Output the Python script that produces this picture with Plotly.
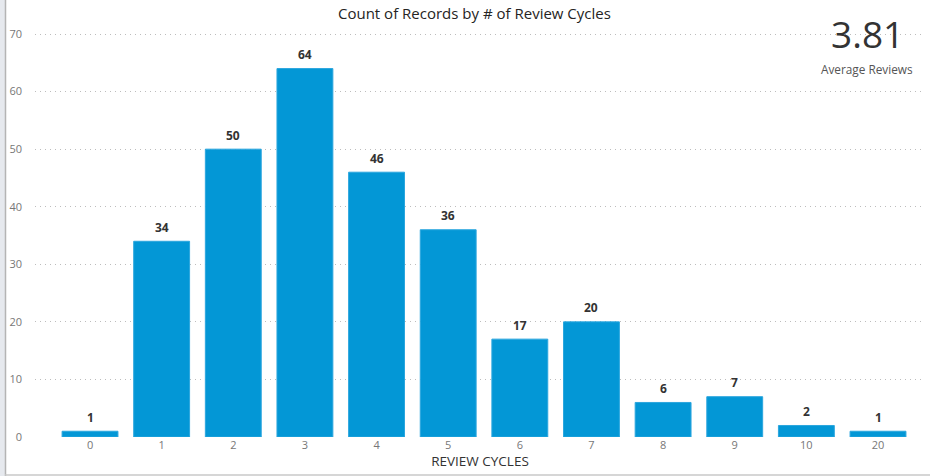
import plotly.graph_objects as go

categories = ["0", "1", "2", "3", "4", "5", "6", "7", "8", "9", "10", "20"]
counts = [1, 34, 50, 64, 46, 36, 17, 20, 6, 7, 2, 1]
y_ticks = [0, 10, 20, 30, 40, 50, 60, 70]
title_text = "Count of Records by # of Review Cycles"
x_title = "REVIEW CYCLES"
card_value = "3.81"
card_label = "Average Reviews"

FONT = "Segoe UI, Open Sans, sans-serif"
W, H = 930, 476
ML, MR, MT, MB = 35, 5, 30, 39
PW = W - ML - MR
PH = H - MT - MB

fig = go.Figure()
fig.add_trace(go.Bar(
    x=categories, y=counts,
    marker=dict(color="#0397D6", line=dict(color="#2BA6DE", width=1)),
    cliponaxis=False, hoverinfo="x+y",
))

# data labels above bars (category axis: position by category index)
for i, v in enumerate(counts):
    fig.add_annotation(x=i, y=v, text=str(v), showarrow=False,
                       xanchor="center", yanchor="middle", yshift=14,
                       font=dict(family=FONT, size=12, color="#333333", weight="bold"))

fig.update_layout(
    width=W, height=H,
    margin=dict(l=ML, r=MR, t=MT, b=MB),
    paper_bgcolor="white", plot_bgcolor="white",
    showlegend=False, bargap=0.22,
    font=dict(family=FONT),
    xaxis=dict(type="category", range=[-0.768, 11.656], showgrid=False,
               showline=False, ticks="", zeroline=False,
               tickfont=dict(family=FONT, size=11, color="#777777"),
               title=dict(text=x_title, font=dict(family=FONT, size=13.5, color="#333333"), standoff=1)),
    yaxis=dict(range=[0, 70.7], tickvals=y_ticks, showgrid=True,
               gridcolor="#BDBDBD", griddash="1px,4px", gridwidth=1,
               zeroline=False, showline=False, ticks="",
               tickfont=dict(family=FONT, size=11, color="#777777"),
               ticklabelstandoff=12),
)

def px(xp):
    return (xp - ML) / PW

def py(yp):
    return (H - MB - yp) / PH

fig.add_annotation(text=title_text, xref="paper", yref="paper",
                   x=px(474), y=py(13), showarrow=False,
                   xanchor="center", yanchor="middle",
                   font=dict(family=FONT, size=15, color="#252423"))
fig.add_annotation(text=card_value, xref="paper", yref="paper",
                   x=px(867), y=py(34), showarrow=False,
                   xanchor="center", yanchor="middle",
                   font=dict(family=FONT, size=37, color="#333333"))
fig.add_annotation(text=card_label, xref="paper", yref="paper",
                   x=px(867), y=py(69), showarrow=False,
                   xanchor="center", yanchor="middle",
                   font=dict(family=FONT, size=11.8, color="#555555"))

# left border band and line, bottom border line
fig.add_shape(type="rect", xref="paper", yref="paper", x0=px(0), x1=px(5), y0=py(H), y1=py(0),
              fillcolor="#E6E9EE", line=dict(width=0), layer="above")
fig.add_shape(type="line", xref="paper", yref="paper", x0=px(5.5), x1=px(5.5), y0=py(H), y1=py(0),
              line=dict(color="#B4B4B4", width=1.5), layer="above")
fig.add_shape(type="line", xref="paper", yref="paper", x0=px(5), x1=px(W), y0=py(475), y1=py(475),
              line=dict(color="#C8C8C8", width=1.5), layer="above")

fig.write_html("out.html", config={"displayModeBar": False},
               post_script="document.body.style.margin='0';")
